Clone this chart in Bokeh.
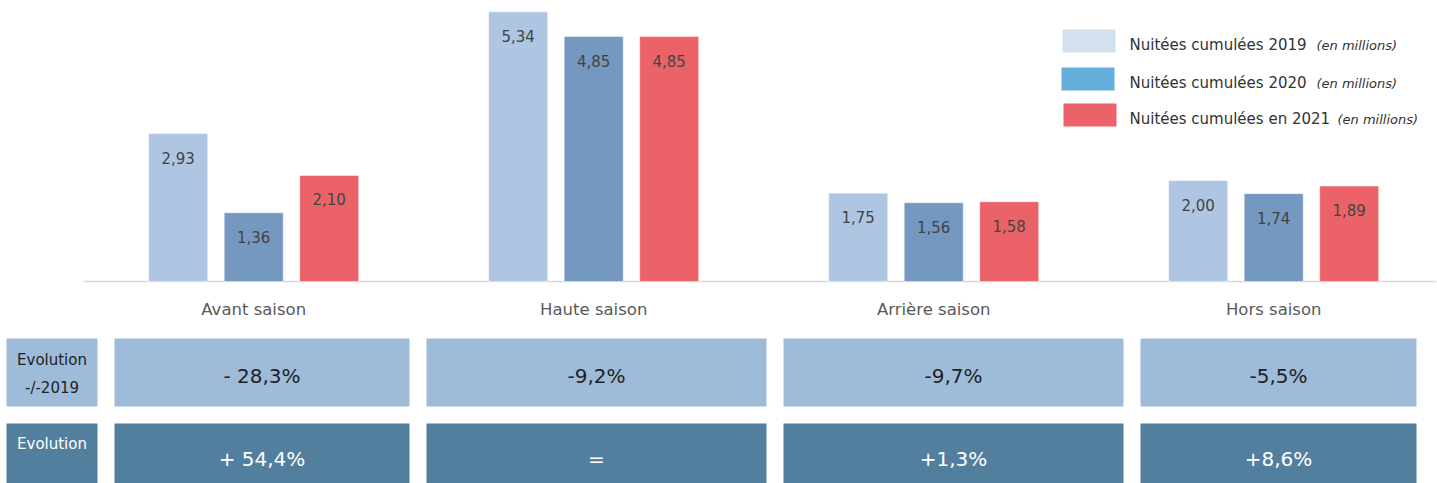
from bokeh.plotting import figure
from bokeh.models import Range1d
from bokeh.core.properties import value
from bokeh.embed import file_html
from bokeh.resources import INLINE

# ---------------- data ----------------
categories = ["Avant saison", "Haute saison", "Arrière saison", "Hors saison"]
nuitees_2019 = [2.93, 5.34, 1.75, 2.00]
nuitees_2020 = [1.36, 4.85, 1.56, 1.74]
nuitees_2021 = [2.10, 4.85, 1.58, 1.89]
series_names = ["Nuitées cumulées 2019", "Nuitées cumulées 2020", "Nuitées cumulées en 2021"]
series_note = "(en millions)"
evol_2019_label = ["Evolution", "-/-2019"]
evol_2019 = ["- 28,3%", "-9,2%", "-9,7%", "-5,5%"]
evol_label = ["Evolution"]
evol = ["+ 54,4%", "=", "+1,3%", "+8,6%"]

# ---------------- layout / style ----------------
FONT = "DejaVu Sans"
W, H = 1437, 483
X0, X1 = 0, W
TOP, BOTTOM = 0, H
BASE_Y = 281                # page y of the bar baseline
PX_PER_UNIT = 50.5
group_x0, group_step = 253.2, 340.0
bar_offsets = [-75.5, 0.0, 75.5]
bar_w = 59
bar_colors = ["#AFC6E3", "#7598C0", "#EB6369"]
legend_colors = ["#D3E1EF", "#66AFDC", "#EB6369"]

y_start = -(BOTTOM - BASE_Y) / PX_PER_UNIT
y_end = (BASE_Y - TOP) / PX_PER_UNIT

p = figure(width=W, height=H, x_range=Range1d(X0, X1), y_range=Range1d(y_start, y_end),
           output_backend="svg", toolbar_location=None, x_axis_type=None, y_axis_type=None,
           min_border=0, outline_line_color=None)
p.extra_y_ranges = {"px": Range1d(start=BOTTOM, end=TOP)}
p.background_fill_color = "white"
p.border_fill_color = "white"

centers = [group_x0 + i * group_step for i in range(len(categories))]

# baseline
p.segment(x0=[83], y0=[0], x1=[1436], y1=[0], line_color="#D9D9D9", line_width=1.5)

# bars + labels
for s, vals in enumerate([nuitees_2019, nuitees_2020, nuitees_2021]):
    xs = [c + bar_offsets[s] for c in centers]
    p.vbar(x=xs, top=vals, bottom=0, width=bar_w, fill_color=bar_colors[s],
           line_color="white", line_alpha=0.45, line_width=1)
    p.text(x=xs, y=vals, text=[f"{v:.2f}".replace(".", ",") for v in vals],
           y_offset=24, text_align="center", text_baseline="middle",
           text_font=value(FONT), text_font_size="15px", text_color="#434343")

# category labels
p.text(x=centers, y=[309] * len(centers), y_range_name="px", text=categories,
       text_align="center", text_baseline="middle", text_font=value(FONT),
       text_font_size="16.5px", text_color="#595959")

# legend
leg_y = [40.5, 78.5, 114.5]
leg_x = [1062, 1061, 1063]
note_x = [1316, 1316, 1337]
p.quad(left=leg_x, right=[x + 53 for x in leg_x], top=[y - 11.5 for y in leg_y],
       bottom=[y + 11.5 for y in leg_y], y_range_name="px",
       fill_color=legend_colors, line_color=None)
p.text(x=[1129] * 3, y=[y + 4 for y in leg_y], y_range_name="px", text=series_names,
       text_align="left", text_baseline="middle", text_font=value(FONT),
       text_font_size="15px", text_color="#333333")
p.text(x=note_x, y=[y + 4 for y in leg_y], y_range_name="px", text=[series_note] * 3,
       text_align="left", text_baseline="middle", text_font=value(FONT),
       text_font_style="italic", text_font_size="13px", text_color="#333333")

# table
row_tops = [338, 423]
row_bots = [406, 483]
row_fill = ["#9FBBDA", "#537F9E"]
row_text = ["#222222", "#FFFFFF"]
label_left, label_right = 6, 97
box_left = [114, 426, 783, 1140]
box_right = [409, 766, 1123, 1416]
for r, (vals, lab) in enumerate([(evol_2019, evol_2019_label), (evol, evol_label)]):
    p.quad(left=[label_left] + box_left, right=[label_right] + box_right,
           top=[row_tops[r]] * 5, bottom=[row_bots[r]] * 5, y_range_name="px",
           fill_color=row_fill[r], line_color=None)
    vy = 375 if r == 0 else 458
    p.text(x=[(a + b) / 2 for a, b in zip(box_left, box_right)], y=[vy] * 4,
           y_range_name="px", text=vals, text_align="center", text_baseline="middle",
           text_font=value(FONT), text_font_size="20px", text_color=row_text[r])
    ly = [359, 387] if r == 0 else [443]
    p.text(x=[(label_left + label_right) / 2] * len(lab), y=ly, y_range_name="px",
           text=lab, text_align="center", text_baseline="middle", text_font=value(FONT),
           text_font_size="15px", text_color=row_text[r])

open("out.html", "w").write(file_html(p, INLINE))
